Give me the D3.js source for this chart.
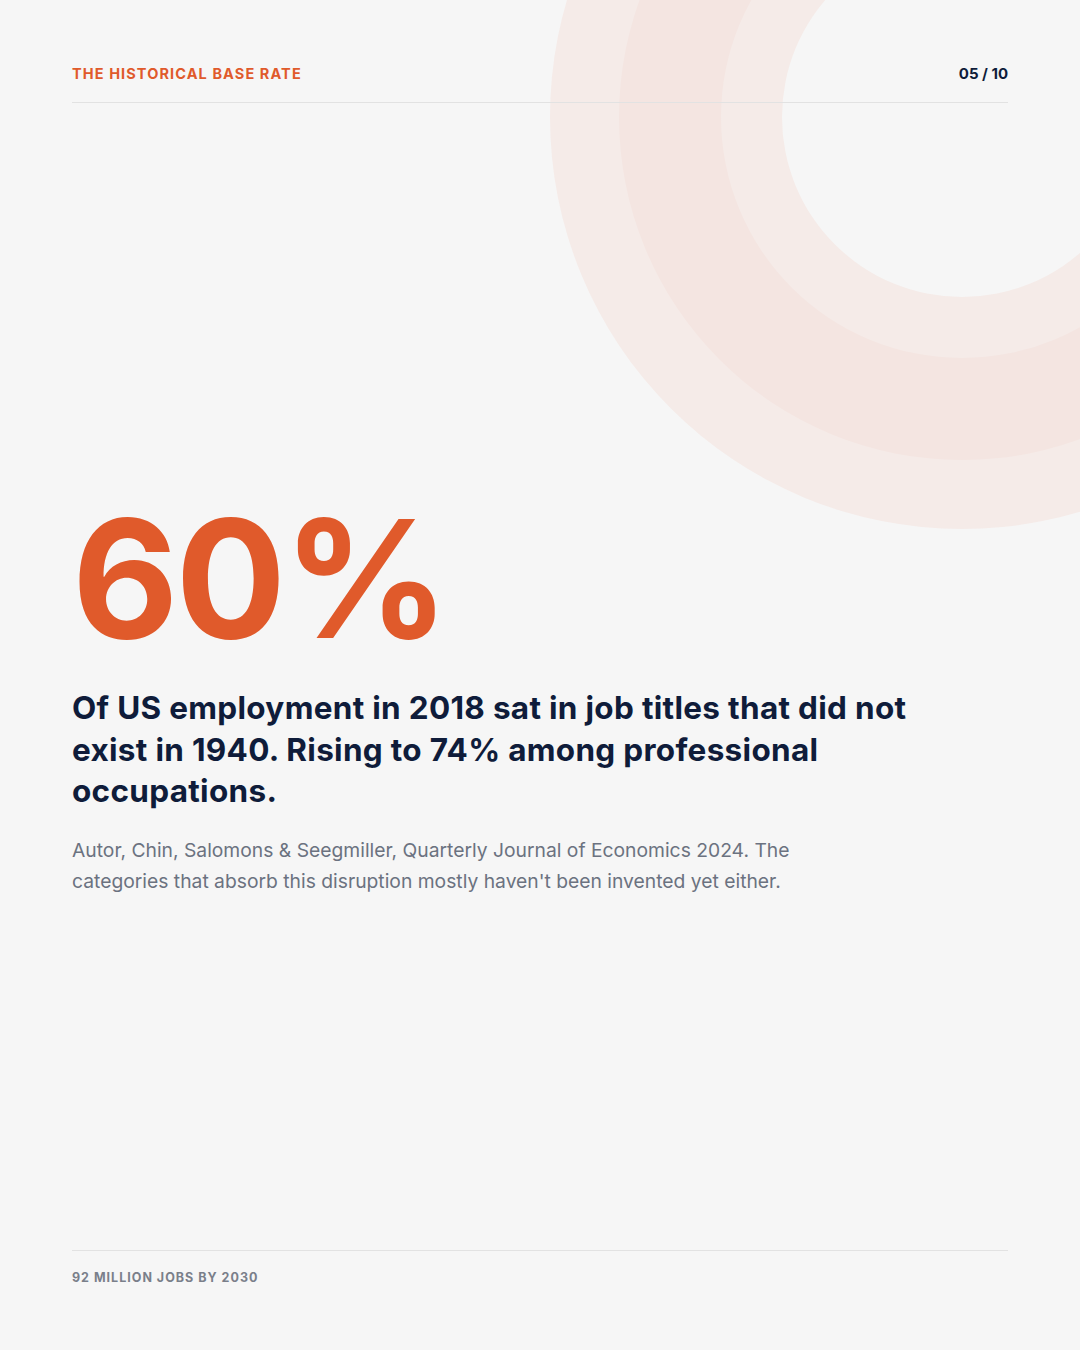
<!DOCTYPE html>
<html><head><meta charset="utf-8">
<script src="https://cdn.jsdelivr.net/npm/d3@7"></script>
<style>html,body{margin:0;padding:0;background:#f6f6f6}</style>
</head><body>
<script>
const kicker = "THE HISTORICAL BASE RATE";
const pageLabel = "05 / 10";
const statValue = [60];
const headlineLines = ["Of US employment in 2018 sat in job titles that did not","exist in 1940. Rising to 74% among professional","occupations."];
const sourceLines = ["Autor, Chin, Salomons & Seegmiller, Quarterly Journal of Economics 2024. The","categories that absorb this disruption mostly haven't been invented yet either."];
const footer = "92 MILLION JOBS BY 2030";
const rings = [{r0:180,r1:412,c:"#f5ebe8"},{r0:241,r1:343,c:"#f4e5e1"}];

const W=1080,H=1350,F="Inter, 'DejaVu Sans', sans-serif";
const svg=d3.select("body").append("svg").attr("width",W).attr("height",H);
svg.append("rect").attr("width",W).attr("height",H).attr("fill","#f6f6f6");
const arc=d3.arc();
svg.selectAll(".ring").data(rings).join("path")
 .attr("transform","translate(962,117)")
 .attr("d",d=>arc({innerRadius:d.r0,outerRadius:d.r1,startAngle:0,endAngle:2*Math.PI}))
 .attr("fill",d=>d.c);
svg.append("text").attr("x",72).attr("y",79).text(kicker).attr("font-family",F).attr("font-size",14.5).attr("font-weight",700).attr("letter-spacing",1.1).attr("fill","#e05a2b");
svg.append("text").attr("x",1008).attr("y",79).attr("text-anchor","end").text(pageLabel).attr("font-family",F).attr("font-size",15).attr("font-weight",700).attr("fill","#0f1c3a");
svg.append("line").attr("x1",72).attr("x2",1008).attr("y1",102.5).attr("y2",102.5).attr("stroke","#e2e2e2");
const fmt=d3.format("d");
svg.selectAll(".stat").data(statValue).join("text").attr("x",72).attr("y",638).text(d=>fmt(d)+"%")
 .attr("font-family",F).attr("font-size",164).attr("font-weight",700).attr("letter-spacing",-3).attr("fill","#e05a2b");
svg.selectAll(".hl").data(headlineLines).join("text").attr("x",72).attr("y",(d,i)=>719+i*41.5).text(d=>d)
 .attr("font-family",F).attr("font-size",31.5).attr("font-weight",700).attr("letter-spacing",0.3).attr("fill","#0f1c3a");
svg.selectAll(".src").data(sourceLines).join("text").attr("x",72).attr("y",(d,i)=>857+i*31).text(d=>d)
 .attr("font-family",F).attr("font-size",19.3).attr("fill","#6b7280");
svg.append("line").attr("x1",72).attr("x2",1008).attr("y1",1250.5).attr("y2",1250.5).attr("stroke","#e2e2e2");
svg.append("text").attr("x",72).attr("y",1282).text(footer).attr("font-family",F).attr("font-size",12.5).attr("font-weight",700).attr("letter-spacing",1.0).attr("fill","#7a7f8a");
</script></body></html>
